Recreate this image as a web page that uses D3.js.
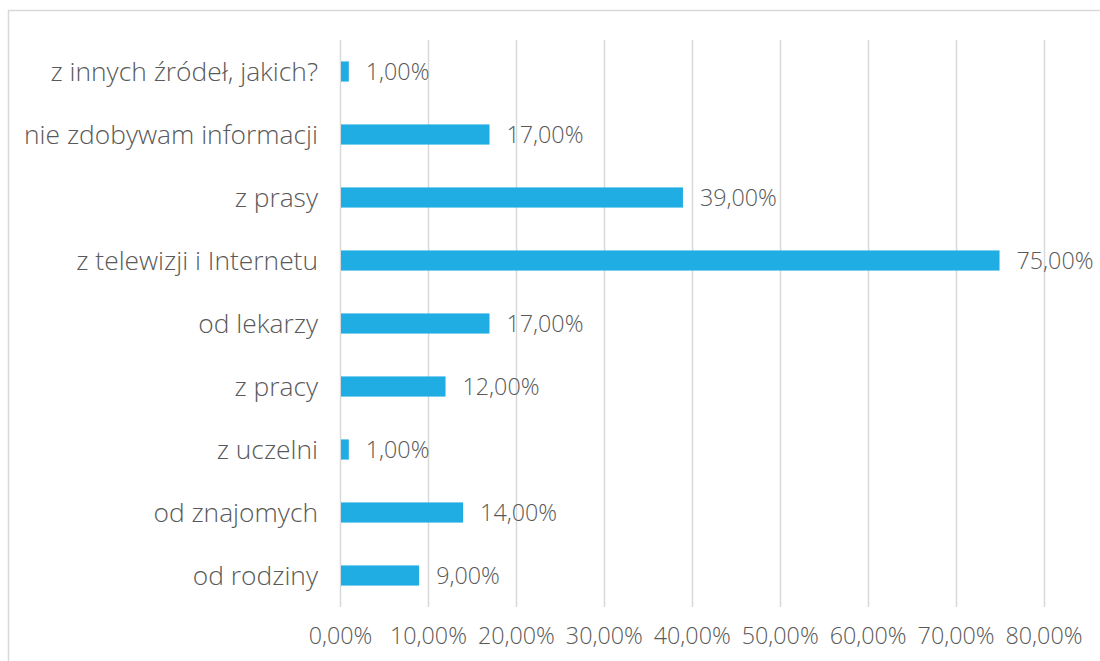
<!DOCTYPE html>
<html><head><meta charset="utf-8">
<script src="https://cdn.jsdelivr.net/npm/d3@7"></script>
<style>
html,body{margin:0;padding:0;background:#fff;}
svg{display:block;}
text{font-family:"Open Sans",sans-serif;fill:#595959;font-weight:300;}
</style></head>
<body>
<svg id="c" width="1100" height="661"></svg>
<script>
const categories = ["z innych źródeł, jakich?","nie zdobywam informacji","z prasy","z telewizji i Internetu","od lekarzy","z pracy","z uczelni","od znajomych","od rodziny"];
const values = [1,17,39,75,17,12,1,14,9];
const ticks = [0,10,20,30,40,50,60,70,80];

const FONT = '"Open Sans",sans-serif';
const svg = d3.select("#c");
const fmt = v => d3.format(".2f")(v).replace(".", ",") + "%";

function fit(str, target){
  const t = svg.append("text").style("font-size","20px").style("font-family",FONT).text(str);
  const w = t.node().getComputedTextLength();
  t.remove();
  return 20*target/w;
}
const catSize = fit("nie zdobywam informacji", 294);
const numSize = fit("80,00%", 77);

svg.append("rect").attr("x",8.5).attr("y",10.5).attr("width",1200).attr("height",800)
  .attr("fill","none").attr("stroke","#D9D9D9").attr("stroke-width",1.5);

const x = d3.scaleLinear().domain([0,80]).range([340,1043.5]);
const y = d3.scaleBand().domain(categories).range([40,607]).paddingInner(0.68).paddingOuter(0.34);

svg.append("g").selectAll("line").data(ticks).join("line")
  .attr("x1",d=>Math.round(x(d))+0.5).attr("x2",d=>Math.round(x(d))+0.5)
  .attr("y1",40).attr("y2",607)
  .attr("stroke","#D9D9D9").attr("stroke-width",1.5);

svg.append("g").selectAll("rect").data(values).join("rect")
  .attr("x",x(0)+1).attr("y",(d,i)=>y(categories[i]))
  .attr("width",d=>x(d)-x(0)-1).attr("height",y.bandwidth())
  .attr("fill","#1FADE4");

svg.append("g").selectAll("text").data(values).join("text")
  .attr("x",d=>x(d)+17).attr("y",(d,i)=>y(categories[i])+y.bandwidth()/2)
  .attr("dy","0.36em").style("font-size",numSize+"px").style("font-family",FONT)
  .text(d=>fmt(d));

const yAxis = d3.axisLeft(y).tickSize(0).tickPadding(22);
const gy = svg.append("g").attr("transform","translate(340,0)").call(yAxis);
gy.select(".domain").remove();
gy.selectAll("text").style("font-size",catSize+"px").attr("fill",null).style("fill","#595959")
  .style("font-family",FONT).style("font-weight",300).attr("dy","0.36em");

const xAxis = d3.axisBottom(x).tickValues(ticks).tickSize(0).tickPadding(20).tickFormat(fmt);
const gx = svg.append("g").attr("transform","translate(0,607)").call(xAxis);
gx.select(".domain").remove();
gx.selectAll("text").style("font-size",numSize+"px").attr("fill",null).style("fill","#595959")
  .style("font-family",FONT).style("font-weight",300);
</script>
</body></html>
